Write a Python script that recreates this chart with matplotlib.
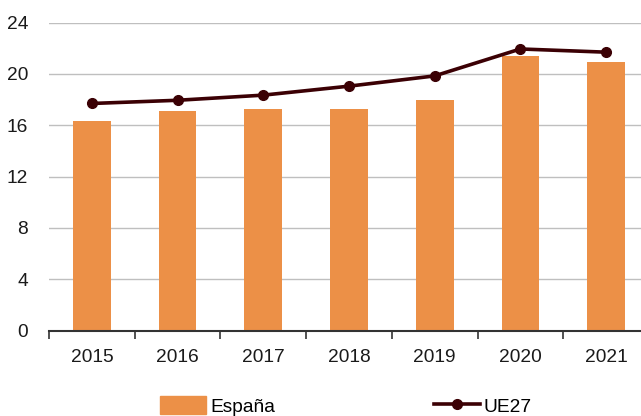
import matplotlib.pyplot as plt
from matplotlib.patches import Patch
from matplotlib.lines import Line2D

years = ["2015", "2016", "2017", "2018", "2019", "2020", "2021"]
espana = [16.35, 17.1, 17.25, 17.25, 18.0, 21.4, 20.9]
ue27 = [17.7, 17.95, 18.35, 19.05, 19.85, 21.95, 21.7]
y_ticks = [0, 4, 8, 12, 16, 20, 24]

bar_color = "#EC9047"
line_color = "#3B0004"

plt.rcParams["font.family"] = ["Liberation Sans", "DejaVu Sans"]

fig = plt.figure(figsize=(6.41, 4.16), dpi=100)
ax = fig.add_axes([0.0764, 0.2055, 0.936, 0.74])

x = list(range(len(years)))
ax.bar(x, espana, width=0.44, color=bar_color, zorder=2)
ax.plot(x, ue27, color=line_color, lw=2.6, marker="o", ms=7, zorder=3)

ax.set_xlim(-0.5, len(years) - 0.5)
ax.set_ylim(0, 24)
ax.set_yticks(y_ticks)
ax.set_yticklabels([str(v) for v in y_ticks])
ax.grid(axis="y", color="#BFBFBF", lw=1.0, zorder=0)
ax.set_axisbelow(True)

ax.set_xticks(x)
ax.set_xticklabels(years)
ax.set_xticks([i - 0.5 for i in range(len(years) + 1)], minor=True)
ax.tick_params(axis="x", which="major", length=0, pad=13, labelsize=13.8, labelcolor="#1a1a1a")
ax.tick_params(axis="x", which="minor", length=6, width=1.2, color="#333333")
ax.tick_params(axis="y", length=0, pad=15, labelsize=13.8, labelcolor="#1a1a1a")

for s in ["top", "right", "left"]:
    ax.spines[s].set_visible(False)
ax.spines["bottom"].set_color("#333333")
ax.spines["bottom"].set_linewidth(1.5)
ax.spines["bottom"].set_zorder(4)

handles = [
    Patch(color=bar_color, label="España"),
    Line2D([0], [0], color=line_color, lw=2.6, marker="o", ms=7, label="UE27"),
]
fig.legend(handles=handles, loc="center", bbox_to_anchor=(0.5397, 0.024), ncol=2,
           frameon=False, fontsize=13.8, handlelength=2.4, handleheight=1.0,
           handletextpad=0.2, columnspacing=8.28)

fig.savefig("out.png", dpi=100)
